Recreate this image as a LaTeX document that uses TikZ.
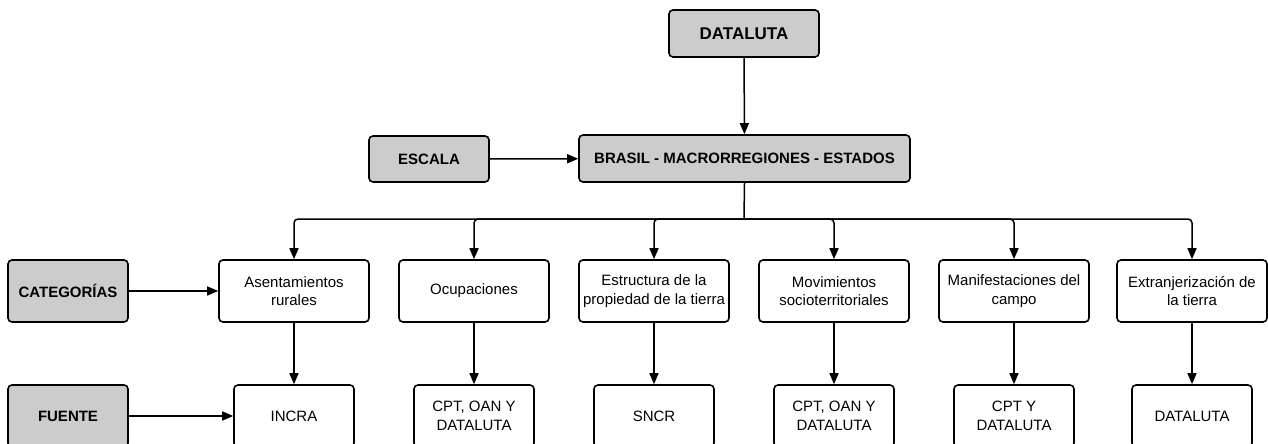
\documentclass[tikz,border=0pt]{standalone}
\usepackage{fontspec}
\setmainfont{Liberation Sans}
\usetikzlibrary{arrows.meta}
\tikzset{
  base/.style={draw=black, line width=1.6pt, rounded corners=4pt, inner sep=0pt, align=center, font=\fontsize{15}{18.5}\selectfont},
  graybox/.style={base, fill=black!20, font=\fontsize{15}{18.5}\selectfont\bfseries},
  catbox/.style={base, fill=white, minimum width=150pt, minimum height=62pt},
  srcbox/.style={base, fill=white, minimum width=120pt, minimum height=62pt},
  conn/.style={line width=1.5pt, -{Triangle[length=11pt,width=9pt]}},
  plain/.style={line width=1.5pt}
}
\begin{document}
\begin{tikzpicture}[x=1pt,y=1pt]
\useasboundingbox (0,0) rectangle (1268,-444);
\clip (0,0) rectangle (1268,-444);
\node[graybox, minimum width=150pt, minimum height=47pt, font=\fontsize{17}{20}\selectfont\bfseries] (top) at (744,-33.5) {DATALUTA};
\node[graybox, minimum width=331pt, minimum height=47pt] (brasil) at (744.5,-158.5) {BRASIL - MACRORREGIONES - ESTADOS};
\node[graybox, minimum width=120pt, minimum height=46pt] (escala) at (429,-159) {ESCALA};
\node[graybox, minimum width=120pt, minimum height=62pt] (categ) at (68,-291) {CATEGORÍAS};
\node[graybox, minimum width=120pt, minimum height=62pt] (fuente) at (68,-416) {FUENTE};

\node[catbox] (c1) at (294,-291) {Asentamientos\\rurales};
\node[catbox] (c2) at (474,-291) {Ocupaciones};
\node[catbox] (c3) at (654,-291) {Estructura de la\\propiedad de la tierra};
\node[catbox] (c4) at (834,-291) {Movimientos\\socioterritoriales};
\node[catbox] (c5) at (1014,-291) {Manifestaciones del\\campo};
\node[catbox] (c6) at (1192,-291) {Extranjerización de\\la tierra};

\node[srcbox] (s1) at (294,-416) {INCRA};
\node[srcbox] (s2) at (474,-416) {CPT, OAN Y\\DATALUTA};
\node[srcbox] (s3) at (654,-416) {SNCR};
\node[srcbox] (s4) at (834,-416) {CPT, OAN Y\\DATALUTA};
\node[srcbox] (s5) at (1014,-416) {CPT Y\\DATALUTA};
\node[srcbox] (s6) at (1192,-416) {DATALUTA};

\coordinate (bus) at (744,-219);
\draw[conn] (top) -- (brasil);
\draw[conn] (escala) -- (brasil);
\draw[conn] (categ) -- (c1);
\draw[conn] (fuente) -- (s1);
\draw[plain] (brasil.south) -- (bus);
\foreach \i in {1,...,6}{
  \draw[conn, rounded corners=4pt] (bus) -| (c\i.north);
  \draw[conn] (c\i) -- (s\i);
}
\end{tikzpicture}
\end{document}
